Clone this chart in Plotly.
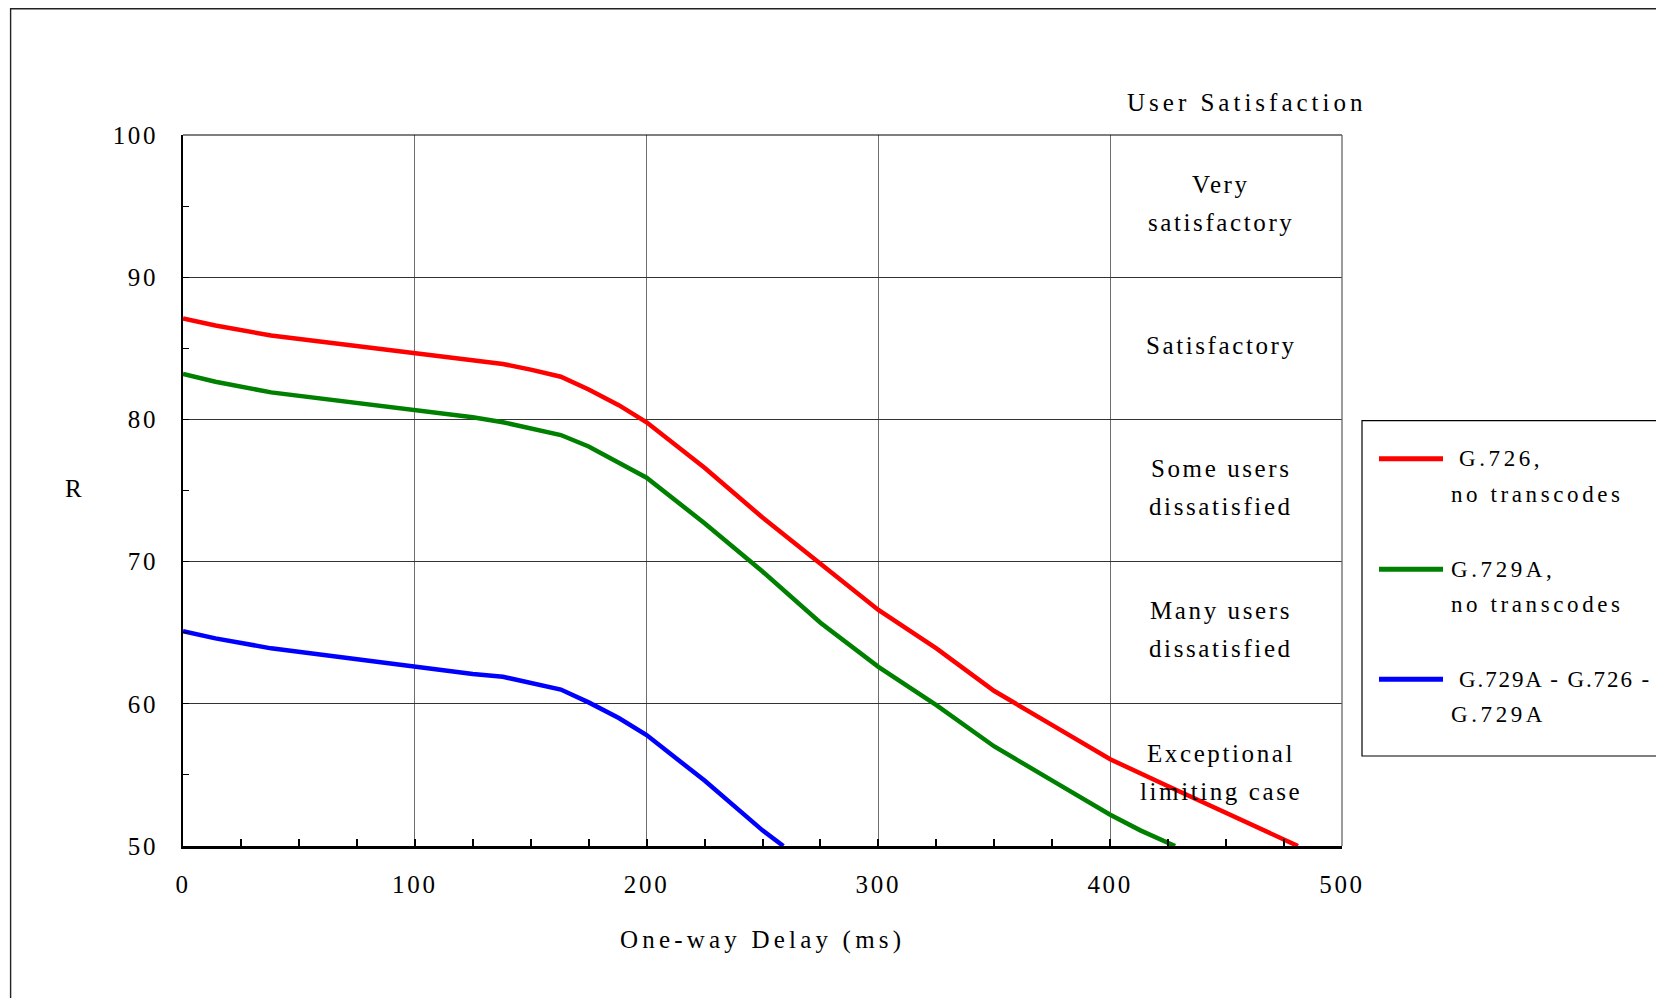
import plotly.graph_objects as go

# ---------------- data ----------------
delay_g726 = [0, 14, 38, 100, 125, 138, 150, 163, 175, 188, 200, 225, 250, 275,
              300, 325, 350, 375, 400, 425, 450, 475, 481]
r_g726 = [87.1, 86.6, 85.9, 84.65, 84.1, 83.9, 83.5, 83.0, 82.1, 81.0, 79.8, 76.6,
          73.1, 69.8, 66.6, 63.9, 60.9, 58.5, 56.1, 54.2, 52.3, 50.4, 50.0]

delay_g729a = [0, 14, 38, 100, 125, 138, 150, 163, 175, 188, 200, 225, 250, 275,
               300, 325, 350, 375, 400, 413, 425, 428]
r_g729a = [83.2, 82.65, 81.9, 80.65, 80.15, 79.8, 79.4, 78.9, 78.1, 77.0, 75.9, 72.7,
           69.3, 65.7, 62.6, 59.9, 57.0, 54.6, 52.2, 51.1, 50.2, 50.0]

delay_tandem = [0, 14, 38, 100, 125, 138, 150, 163, 175, 188, 200, 225, 250, 259]
r_tandem = [65.1, 64.6, 63.9, 62.6, 62.1, 61.9, 61.5, 61.0, 60.1, 59.0, 57.8, 54.6,
            51.1, 50.0]

series_line1 = ["G.726,", "G.729A,", "G.729A - G.726 -"]
series_line2 = ["no transcodes", "no transcodes", "G.729A"]
series_colors = ["#ff0000", "#008000", "#0000ff"]

x_tick_vals = [0, 100, 200, 300, 400, 500]
x_tick_labels = ["0", "100", "200", "300", "400", "500"]
y_tick_vals = [50, 60, 70, 80, 90, 100]
y_tick_labels = ["50", "60", "70", "80", "90", "100"]

band_centers = [95, 85, 75, 65, 55]
band_labels = [["Very", "satisfactory"], ["Satisfactory"],
               ["Some users", "dissatisfied"], ["Many users", "dissatisfied"],
               ["Exceptional", "limiting case"]]

x_title = "One-way Delay (ms)"
y_title = "R"
band_title = "User Satisfaction"

# ---------------- layout geometry (pixels, as seen on the page) ----------------
W, H = 1664, 998
OFF = 8  # page body margin
L, R, T, B = 183 - OFF, 1342 - OFF, 135 - OFF, 846 - OFF
FONT = "Liberation Serif"


def px_x(px):
    return (px - OFF - L) / (R - L)


def px_y(py):
    return (B - (py - OFF)) / (B - T)


def spaced(text, ls):
    return f'<span style="letter-spacing:{ls}px">{text}</span>'


fig = go.Figure()
names = [a + " " + b for a, b in zip(series_line1, series_line2)]
for xs, ys, col, nm in zip([delay_g726, delay_g729a, delay_tandem],
                           [r_g726, r_g729a, r_tandem], series_colors, names):
    fig.add_trace(go.Scatter(x=xs, y=ys, mode="lines", name=nm,
                             line=dict(color=col, width=4.5), showlegend=False,
                             hoverinfo="x+y+name"))

fig.update_layout(
    width=W, height=H,
    margin=dict(l=L, r=W - R, t=T, b=H - B, autoexpand=False, pad=0),
    paper_bgcolor="white", plot_bgcolor="white",
    font=dict(family=FONT, size=25, color="black"),
    showlegend=False,
)

fig.update_xaxes(
    range=[0, 500], tickmode="array", tickvals=x_tick_vals,
    ticktext=[spaced(t, 2.7) for t in x_tick_labels],
    ticks="inside", ticklen=7, tickwidth=1.5, tickcolor="black",
    minor=dict(tickmode="linear", tick0=0, dtick=25, ticks="inside", ticklen=7,
               tickwidth=1.5, tickcolor="black", showgrid=False),
    showgrid=True, gridcolor="#6e6e6e", gridwidth=1.3,
    showline=True, linecolor="black", linewidth=3, zeroline=False,
    ticklabelstandoff=14, tickfont=dict(family=FONT, size=25, color="black"),
)
fig.update_yaxes(
    range=[50, 100], tickmode="array", tickvals=y_tick_vals,
    ticktext=[spaced(t, 2.7) for t in y_tick_labels],
    ticks="inside", ticklen=6, tickwidth=1.3, tickcolor="black",
    minor=dict(tickmode="linear", tick0=50, dtick=5, ticks="inside", ticklen=6,
               tickwidth=1.3, tickcolor="black", showgrid=False),
    showgrid=True, gridcolor="#333333", gridwidth=1,
    showline=True, linecolor="black", linewidth=1.5, zeroline=False,
    ticklabelstandoff=18, tickfont=dict(family=FONT, size=25, color="black"),
)

shapes = []
# plot border (top + right)
shapes.append(dict(type="line", xref="paper", yref="paper", x0=0, x1=1, y0=1, y1=1,
                   line=dict(color="black", width=1.2)))
shapes.append(dict(type="line", xref="paper", yref="paper", x0=1, x1=1, y0=0, y1=1,
                   line=dict(color="#666666", width=1.3)))
# outer frame (top edge kept just inside the drawing)
shapes.append(dict(type="rect", xref="paper", yref="paper",
                   x0=px_x(10.6), x1=px_x(1740), y0=px_y(1060), y1=px_y(OFF + 0.8),
                   line=dict(color="#222222", width=1.4), layer="below"))
# legend box
shapes.append(dict(type="rect", xref="paper", yref="paper",
                   x0=px_x(1362), x1=px_x(1740), y0=px_y(756), y1=px_y(420.7),
                   line=dict(color="black", width=1.2), fillcolor="white"))

annotations = []
legend_y = [458.7, 569.3, 679.3]
line1_x = [1457, 1449, 1457]
line1_ls = [3.6, 3.6, 1.9]
for i in range(3):
    ly = legend_y[i]
    shapes.append(dict(type="line", xref="paper", yref="paper",
                       x0=px_x(1379), x1=px_x(1443), y0=px_y(ly), y1=px_y(ly),
                       line=dict(color=series_colors[i], width=5)))
    annotations.append(dict(xref="paper", yref="paper", x=px_x(line1_x[i]), y=px_y(ly),
                            xanchor="left", yanchor="middle", showarrow=False,
                            text=spaced(series_line1[i], line1_ls[i]),
                            font=dict(family=FONT, size=23, color="black")))
    annotations.append(dict(xref="paper", yref="paper", x=px_x(1449), y=px_y(ly + 35.5),
                            xanchor="left", yanchor="middle", showarrow=False,
                            text=spaced(series_line2[i], 3.6),
                            font=dict(family=FONT, size=23, color="black")))

# satisfaction band labels
for c, lines in zip(band_centers, band_labels):
    if len(lines) == 1:
        ys = [c + 0.2]
    else:
        ys = [c + 0.2 + 1.34, c + 0.2 - 1.34]
    for txt, yv in zip(lines, ys):
        annotations.append(dict(xref="x", yref="y", x=448, y=yv, xanchor="center",
                                yanchor="middle", showarrow=False,
                                text=spaced(txt, 2.6),
                                font=dict(family=FONT, size=25, color="black")))

annotations.append(dict(xref="paper", yref="paper", x=px_x(1246), y=px_y(103),
                        xanchor="center", yanchor="middle", showarrow=False,
                        text=spaced(band_title, 4), font=dict(family=FONT, size=25)))
annotations.append(dict(xref="paper", yref="paper", x=0.5, y=px_y(940),
                        xanchor="center", yanchor="middle", showarrow=False,
                        text=spaced(x_title, 4.2), font=dict(family=FONT, size=25)))
annotations.append(dict(xref="paper", yref="paper", x=px_x(73), y=px_y(488),
                        xanchor="center", yanchor="middle", showarrow=False,
                        text=y_title, font=dict(family=FONT, size=25)))

fig.update_layout(shapes=shapes, annotations=annotations)
fig.write_html("out.html")
